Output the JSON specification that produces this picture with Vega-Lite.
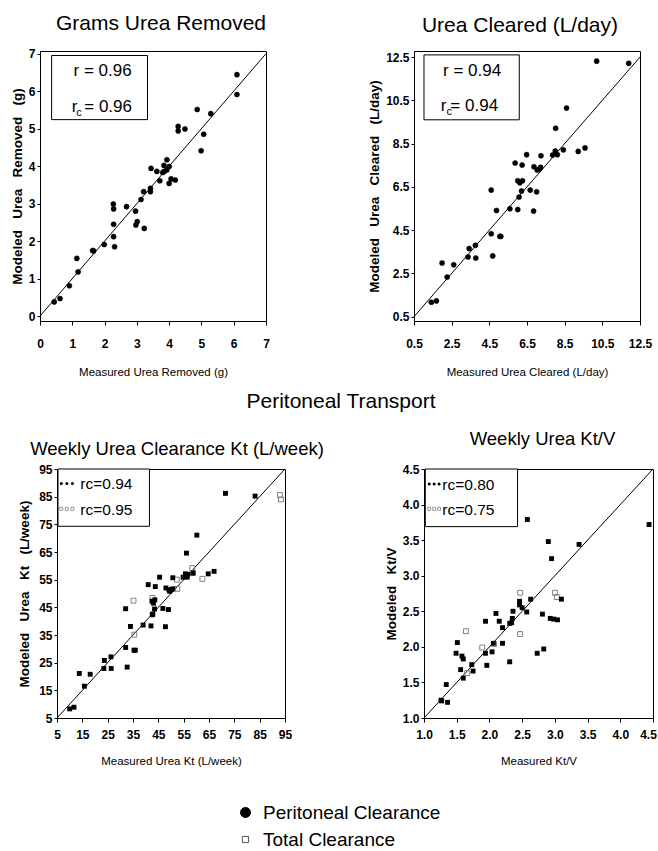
{
  "$schema": "https://vega.github.io/schema/vega-lite/v6.json",
  "background": "white",
  "padding": {"left": 9, "top": 12, "right": 0, "bottom": 0},
  "config": {
    "view": {"stroke": "black", "strokeWidth": 1},
    "axis": {"grid": false, "domainColor": "black", "tickColor": "black", "labelColor": "black", "titleColor": "black", "tickSize": 4, "labelFont": "Liberation Sans", "labelFontSize": 12, "labelFontWeight": "bold", "titleFont": "Liberation Sans", "titleFontWeight": "normal", "titleFontSize": 11.5, "labelFlush": false, "labelOverlap": false},
    "axisY": {"titleFont": "Liberation Sans", "titleFontWeight": "bold", "titleFontSize": 13.5, "labelPadding": 2, "tickSize": 3},
    "axisX": {"labelPadding": 13, "titlePadding": 17},
    "title": {"font": "Liberation Sans", "fontWeight": "normal", "color": "black"}
  },
  "datasets": {
    "grams": [
      {"x":0.44,"y":0.38,"s":"Peritoneal Clearance"},{"x":0.62,"y":0.47,"s":"Peritoneal Clearance"},{"x":0.91,"y":0.81,"s":"Peritoneal Clearance"},{"x":1.14,"y":1.54,"s":"Peritoneal Clearance"},{"x":1.18,"y":1.18,"s":"Peritoneal Clearance"},{"x":1.63,"y":1.75,"s":"Peritoneal Clearance"},{"x":1.66,"y":1.74,"s":"Peritoneal Clearance"},{"x":1.99,"y":1.91,"s":"Peritoneal Clearance"},{"x":2.27,"y":2.99,"s":"Peritoneal Clearance"},{"x":2.28,"y":2.86,"s":"Peritoneal Clearance"},{"x":2.28,"y":2.45,"s":"Peritoneal Clearance"},{"x":2.28,"y":2.12,"s":"Peritoneal Clearance"},{"x":2.31,"y":1.85,"s":"Peritoneal Clearance"},{"x":2.68,"y":2.92,"s":"Peritoneal Clearance"},{"x":2.96,"y":2.80,"s":"Peritoneal Clearance"},{"x":2.97,"y":2.43,"s":"Peritoneal Clearance"},{"x":3.01,"y":2.52,"s":"Peritoneal Clearance"},{"x":3.23,"y":2.34,"s":"Peritoneal Clearance"},{"x":3.13,"y":3.11,"s":"Peritoneal Clearance"},{"x":3.21,"y":3.32,"s":"Peritoneal Clearance"},{"x":3.42,"y":3.41,"s":"Peritoneal Clearance"},{"x":3.42,"y":3.32,"s":"Peritoneal Clearance"},{"x":3.44,"y":3.94,"s":"Peritoneal Clearance"},{"x":3.62,"y":3.86,"s":"Peritoneal Clearance"},{"x":3.71,"y":3.61,"s":"Peritoneal Clearance"},{"x":3.80,"y":3.83,"s":"Peritoneal Clearance"},{"x":3.84,"y":4.02,"s":"Peritoneal Clearance"},{"x":3.85,"y":3.86,"s":"Peritoneal Clearance"},{"x":3.93,"y":4.17,"s":"Peritoneal Clearance"},{"x":3.93,"y":3.90,"s":"Peritoneal Clearance"},{"x":4.00,"y":3.54,"s":"Peritoneal Clearance"},{"x":4.00,"y":3.99,"s":"Peritoneal Clearance"},{"x":4.06,"y":3.66,"s":"Peritoneal Clearance"},{"x":4.19,"y":3.63,"s":"Peritoneal Clearance"},{"x":4.28,"y":5.06,"s":"Peritoneal Clearance"},{"x":4.28,"y":4.94,"s":"Peritoneal Clearance"},{"x":4.49,"y":4.99,"s":"Peritoneal Clearance"},{"x":4.87,"y":5.51,"s":"Peritoneal Clearance"},{"x":4.99,"y":4.41,"s":"Peritoneal Clearance"},{"x":5.07,"y":4.85,"s":"Peritoneal Clearance"},{"x":5.29,"y":5.40,"s":"Peritoneal Clearance"},{"x":6.10,"y":6.44,"s":"Peritoneal Clearance"},{"x":6.10,"y":5.91,"s":"Peritoneal Clearance"}
    ],
    "cleared": [
      {"x":1.42,"y":1.17,"s":"Peritoneal Clearance"},{"x":1.69,"y":1.23,"s":"Peritoneal Clearance"},{"x":1.99,"y":2.98,"s":"Peritoneal Clearance"},{"x":2.26,"y":2.33,"s":"Peritoneal Clearance"},{"x":2.61,"y":2.90,"s":"Peritoneal Clearance"},{"x":3.37,"y":3.26,"s":"Peritoneal Clearance"},{"x":3.43,"y":3.65,"s":"Peritoneal Clearance"},{"x":3.76,"y":3.80,"s":"Peritoneal Clearance"},{"x":3.78,"y":3.21,"s":"Peritoneal Clearance"},{"x":4.60,"y":6.35,"s":"Peritoneal Clearance"},{"x":4.60,"y":4.33,"s":"Peritoneal Clearance"},{"x":4.68,"y":3.31,"s":"Peritoneal Clearance"},{"x":4.88,"y":5.41,"s":"Peritoneal Clearance"},{"x":5.06,"y":4.21,"s":"Peritoneal Clearance"},{"x":5.11,"y":4.21,"s":"Peritoneal Clearance"},{"x":5.59,"y":5.49,"s":"Peritoneal Clearance"},{"x":5.87,"y":7.60,"s":"Peritoneal Clearance"},{"x":6.01,"y":5.45,"s":"Peritoneal Clearance"},{"x":6.01,"y":6.78,"s":"Peritoneal Clearance"},{"x":6.08,"y":6.03,"s":"Peritoneal Clearance"},{"x":6.12,"y":6.69,"s":"Peritoneal Clearance"},{"x":6.21,"y":6.31,"s":"Peritoneal Clearance"},{"x":6.26,"y":6.78,"s":"Peritoneal Clearance"},{"x":6.24,"y":7.51,"s":"Peritoneal Clearance"},{"x":6.48,"y":7.99,"s":"Peritoneal Clearance"},{"x":6.67,"y":6.35,"s":"Peritoneal Clearance"},{"x":6.85,"y":5.38,"s":"Peritoneal Clearance"},{"x":6.87,"y":7.43,"s":"Peritoneal Clearance"},{"x":7.01,"y":6.27,"s":"Peritoneal Clearance"},{"x":7.04,"y":7.28,"s":"Peritoneal Clearance"},{"x":7.15,"y":7.32,"s":"Peritoneal Clearance"},{"x":7.22,"y":7.40,"s":"Peritoneal Clearance"},{"x":7.24,"y":7.94,"s":"Peritoneal Clearance"},{"x":7.86,"y":7.97,"s":"Peritoneal Clearance"},{"x":8.00,"y":8.16,"s":"Peritoneal Clearance"},{"x":8.02,"y":9.21,"s":"Peritoneal Clearance"},{"x":8.11,"y":7.99,"s":"Peritoneal Clearance"},{"x":8.43,"y":8.21,"s":"Peritoneal Clearance"},{"x":8.60,"y":10.14,"s":"Peritoneal Clearance"},{"x":9.22,"y":8.14,"s":"Peritoneal Clearance"},{"x":9.58,"y":8.30,"s":"Peritoneal Clearance"},{"x":10.20,"y":12.31,"s":"Peritoneal Clearance"},{"x":11.90,"y":12.21,"s":"Peritoneal Clearance"}
    ],
    "kt_p": [
      {"x":10.0,"y":8.3},{"x":11.7,"y":8.9},{"x":13.8,"y":21.1},{"x":15.8,"y":16.5},{"x":18.1,"y":20.8},{"x":23.5,"y":22.9},{"x":23.7,"y":25.8},{"x":26.3,"y":27.1},{"x":26.4,"y":22.9},{"x":32.1,"y":30.5},{"x":32.1,"y":44.5},{"x":32.7,"y":23.4},{"x":34.0,"y":38.1},{"x":35.4,"y":29.5},{"x":35.9,"y":29.5},{"x":39.0,"y":38.6},{"x":41.0,"y":53.2},{"x":42.1,"y":38.3},{"x":42.5,"y":47.2},{"x":42.6,"y":42.3},{"x":42.8,"y":42.6},{"x":43.1,"y":46.5},{"x":43.5,"y":44.4},{"x":43.6,"y":47.7},{"x":43.8,"y":52.5},{"x":45.5,"y":55.9},{"x":46.8,"y":44.6},{"x":47.8,"y":38.0},{"x":48.0,"y":52.0},{"x":49.0,"y":44.2},{"x":49.2,"y":51.3},{"x":49.5,"y":50.8},{"x":50.2,"y":51.4},{"x":50.7,"y":55.7},{"x":50.7,"y":51.7},{"x":54.8,"y":55.9},{"x":55.7,"y":57.1},{"x":56.1,"y":64.6},{"x":56.4,"y":55.9},{"x":56.6,"y":56.9},{"x":58.7,"y":57.4},{"x":60.2,"y":71.1},{"x":64.7,"y":57.1},{"x":67.0,"y":58.0},{"x":71.5,"y":86.2},{"x":83.2,"y":85.2}
    ],
    "kt_t": [
      {"x":35.2,"y":47.4},{"x":35.5,"y":35.1},{"x":42.7,"y":48.4},{"x":52.3,"y":55.0},{"x":52.5,"y":51.7},{"x":58.4,"y":59.2},{"x":58.6,"y":57.4},{"x":62.4,"y":55.3},{"x":93.0,"y":85.6},{"x":93.4,"y":84.0}
    ],
    "ktv_p": [
      {"x":1.26,"y":1.25},{"x":1.27,"y":1.24},{"x":1.36,"y":1.22},{"x":1.34,"y":1.47},{"x":1.49,"y":1.91},{"x":1.51,"y":2.06},{"x":1.56,"y":1.68},{"x":1.58,"y":1.87},{"x":1.60,"y":1.83},{"x":1.60,"y":1.56},{"x":1.73,"y":1.75},{"x":1.75,"y":1.66},{"x":1.94,"y":2.36},{"x":1.94,"y":1.91},{"x":1.96,"y":1.74},{"x":2.04,"y":1.93},{"x":2.06,"y":2.05},{"x":2.10,"y":2.47},{"x":2.15,"y":2.36},{"x":2.20,"y":2.27},{"x":2.20,"y":2.05},{"x":2.31,"y":2.33},{"x":2.31,"y":1.79},{"x":2.34,"y":2.34},{"x":2.35,"y":2.40},{"x":2.36,"y":2.50},{"x":2.46,"y":2.64},{"x":2.46,"y":2.59},{"x":2.50,"y":2.55},{"x":2.58,"y":3.79},{"x":2.57,"y":2.49},{"x":2.63,"y":2.67},{"x":2.73,"y":1.91},{"x":2.81,"y":2.46},{"x":2.83,"y":1.97},{"x":2.90,"y":3.48},{"x":2.93,"y":2.40},{"x":2.95,"y":3.24},{"x":2.98,"y":2.39},{"x":3.04,"y":2.38},{"x":3.10,"y":2.67},{"x":3.37,"y":3.44},{"x":4.44,"y":3.72}
    ],
    "ktv_t": [
      {"x":1.64,"y":2.22},{"x":1.66,"y":1.63},{"x":1.89,"y":1.99},{"x":2.07,"y":2.04},{"x":2.47,"y":2.76},{"x":2.47,"y":2.18},{"x":3.00,"y":2.76},{"x":3.03,"y":2.70}
    ],
    "diag1": [{"x":0,"y":0},{"x":7,"y":7}],
    "diag2": [{"x":0.5,"y":0.5},{"x":12.5,"y":12.5}],
    "diag3": [{"x":5,"y":5},{"x":95,"y":95}],
    "diag4": [{"x":1,"y":1},{"x":4.5,"y":4.5}],
    "box1": [{"x":0.36,"y":6.95,"x2":3.33,"y2":5.24}],
    "box2": [{"x":1.03,"y":12.6,"x2":6.09,"y2":9.6}],
    "box3": [{"x":5.4,"y":95,"x2":41.5,"y2":74.3}],
    "box4": [{"x":1.02,"y":4.5,"x2":2.43,"y2":3.69}],
    "t1a": [{"x":1.04,"y":6.53,"t":"r = 0.96"},{"x":0.98,"y":5.59,"t":"r"},{"x":1.37,"y":5.59,"t":"= 0.96"}],
    "t1b": [{"x":1.12,"y":5.43,"t":"c"}],
    "t2a": [{"x":2.04,"y":11.86,"t":"r = 0.94"},{"x":1.92,"y":10.22,"t":"r"},{"x":2.43,"y":10.22,"t":"= 0.94"}],
    "t2b": [{"x":2.22,"y":9.96,"t":"c"}],
    "t3": [{"x":14.2,"y":89.4,"t":"rc=0.94"},{"x":14.2,"y":80.1,"t":"rc=0.95"}],
    "t4": [{"x":1.28,"y":4.28,"t":"rc=0.80"},{"x":1.28,"y":3.92,"t":"rc=0.75"}],
    "dots3": [{"x":6.7,"y":89.8},{"x":8.9,"y":89.8},{"x":11.1,"y":89.8}],
    "sq3": [{"x":6.7,"y":80.6},{"x":8.9,"y":80.6},{"x":11.1,"y":80.6}],
    "dots4": [{"x":1.08,"y":4.29},{"x":1.155,"y":4.29},{"x":1.23,"y":4.29}],
    "sq4": [{"x":1.08,"y":3.94},{"x":1.155,"y":3.94},{"x":1.23,"y":3.94}]
  },
  "columns": 1,
  "align": "none",
  "spacing": 13,
  "concat": [
    {
      "bounds": "flush",
      "spacing": 148,
      "hconcat": [
        {
          "width": 226, "height": 270,
          "title": {"text": "Grams Urea Removed", "fontSize": 21, "dx": 8, "offset": 14},
          "encoding": {
            "x": {"field": "x", "type": "quantitative", "scale": {"domain": [0, 7], "nice": false, "zero": false}, "axis": {"values": [0,1,2,3,4,5,6,7], "title": "Measured Urea Removed (g)"}},
            "y": {"field": "y", "type": "quantitative", "scale": {"domain": [-0.13, 7.07], "nice": false, "zero": false}, "axis": {"values": [0,1,2,3,4,5,6,7], "title": "Modeled \u00a0\u00a0Urea \u00a0\u00a0Removed \u00a0\u00a0(g)", "titlePadding": 4}}
          },
          "layer": [
            {"data": {"name": "box1"}, "mark": {"type": "rect", "fill": "white", "stroke": "black", "strokeWidth": 1}, "encoding": {"x2": {"field": "x2"}, "y2": {"field": "y2"}}},
            {"data": {"name": "diag1"}, "mark": {"type": "line", "color": "black", "strokeWidth": 1}, "encoding": {}},
            {"data": {"name": "grams"}, "mark": {"type": "point", "filled": true, "size": 26, "opacity": 1, "strokeWidth": 0.5},
             "encoding": {
               "shape": {"field": "s", "type": "nominal", "scale": {"domain": ["Peritoneal Clearance", "Total Clearance"], "range": ["circle", "M-0.62,-0.62H0.62V0.62H-0.62Z"]}, "legend": {"title": null, "orient": "none", "legendX": 196, "legendY": 752, "labelFont": "Liberation Sans", "labelFontSize": 19, "labelColor": "black", "labelOffset": 8, "labelLimit": 400, "rowPadding": 7, "symbolSize": 100, "symbolStrokeWidth": 1}},
               "fill": {"field": "s", "type": "nominal", "scale": {"domain": ["Peritoneal Clearance", "Total Clearance"], "range": ["black", "white"]}, "legend": {"title": null, "orient": "none", "legendX": 196, "legendY": 752, "labelFont": "Liberation Sans", "labelFontSize": 19, "labelColor": "black", "labelOffset": 8, "labelLimit": 400, "rowPadding": 7, "symbolSize": 100, "symbolStrokeWidth": 1}},
               "stroke": {"field": "s", "type": "nominal", "scale": {"domain": ["Peritoneal Clearance", "Total Clearance"], "range": ["black", "#555555"]}, "legend": {"title": null, "orient": "none", "legendX": 196, "legendY": 752, "labelFont": "Liberation Sans", "labelFontSize": 19, "labelColor": "black", "labelOffset": 8, "labelLimit": 400, "rowPadding": 7, "symbolSize": 100, "symbolStrokeWidth": 1}}
             }},
            {"data": {"name": "t1a"}, "mark": {"type": "text", "align": "left", "font": "Liberation Sans", "fontSize": 17, "color": "black"}, "encoding": {"text": {"field": "t"}}},
            {"data": {"name": "t1b"}, "mark": {"type": "text", "align": "left", "font": "Liberation Sans", "fontSize": 11, "color": "black"}, "encoding": {"text": {"field": "t"}}}
          ]
        },
        {
          "width": 226, "height": 270,
          "title": {"text": "Urea Cleared (L/day)", "fontSize": 21, "dx": -7, "offset": 15},
          "encoding": {
            "x": {"field": "x", "type": "quantitative", "scale": {"domain": [0.5, 12.5], "nice": false, "zero": false}, "axis": {"values": [0.5,2.5,4.5,6.5,8.5,10.5,12.5], "format": ".1f", "title": "Measured Urea Cleared (L/day)"}},
            "y": {"field": "y", "type": "quantitative", "scale": {"domain": [0.3, 12.78], "nice": false, "zero": false}, "axis": {"values": [0.5,2.5,4.5,6.5,8.5,10.5,12.5], "format": ".1f", "title": "Modeled \u00a0\u00a0Urea \u00a0\u00a0Cleared \u00a0\u00a0(L/day)", "titlePadding": 4}}
          },
          "layer": [
            {"data": {"name": "box2"}, "mark": {"type": "rect", "fill": "white", "stroke": "black", "strokeWidth": 1}, "encoding": {"x2": {"field": "x2"}, "y2": {"field": "y2"}}},
            {"data": {"name": "diag2"}, "mark": {"type": "line", "color": "black", "strokeWidth": 1}, "encoding": {}},
            {"data": {"name": "cleared"}, "mark": {"type": "point", "filled": true, "size": 26, "opacity": 1, "strokeWidth": 0.5},
             "encoding": {
               "shape": {"field": "s", "type": "nominal", "scale": {"domain": ["Peritoneal Clearance", "Total Clearance"], "range": ["circle", "M-0.62,-0.62H0.62V0.62H-0.62Z"]}, "legend": {"title": null, "orient": "none", "legendX": 196, "legendY": 752, "labelFont": "Liberation Sans", "labelFontSize": 19, "labelColor": "black", "labelOffset": 8, "labelLimit": 400, "rowPadding": 7, "symbolSize": 100, "symbolStrokeWidth": 1}},
               "fill": {"field": "s", "type": "nominal", "scale": {"domain": ["Peritoneal Clearance", "Total Clearance"], "range": ["black", "white"]}, "legend": {"title": null, "orient": "none", "legendX": 196, "legendY": 752, "labelFont": "Liberation Sans", "labelFontSize": 19, "labelColor": "black", "labelOffset": 8, "labelLimit": 400, "rowPadding": 7, "symbolSize": 100, "symbolStrokeWidth": 1}},
               "stroke": {"field": "s", "type": "nominal", "scale": {"domain": ["Peritoneal Clearance", "Total Clearance"], "range": ["black", "#555555"]}, "legend": {"title": null, "orient": "none", "legendX": 196, "legendY": 752, "labelFont": "Liberation Sans", "labelFontSize": 19, "labelColor": "black", "labelOffset": 8, "labelLimit": 400, "rowPadding": 7, "symbolSize": 100, "symbolStrokeWidth": 1}}
             }},
            {"data": {"name": "t2a"}, "mark": {"type": "text", "align": "left", "font": "Liberation Sans", "fontSize": 17, "color": "black"}, "encoding": {"text": {"field": "t"}}},
            {"data": {"name": "t2b"}, "mark": {"type": "text", "align": "left", "font": "Liberation Sans", "fontSize": 11, "color": "black"}, "encoding": {"text": {"field": "t"}}}
          ]
        }
      ]
    },
    {
      "bounds": "flush",
      "spacing": 0,
      "title": {"text": "Peritoneal Transport", "fontSize": 21, "anchor": "middle", "offset": 17, "dx": 4},
      "hconcat": [
        {"width": 17, "height": 10, "data": {"values": []}, "mark": {"type": "point"}, "view": {"stroke": null}},
        {
          "bounds": "flush",
          "spacing": 139,
          "hconcat": [
            {
              "width": 228, "height": 249,
              "title": {"text": "Weekly Urea Clearance Kt (L/week)", "fontSize": 18.5, "dx": 6, "offset": 5},
              "encoding": {
                "x": {"field": "x", "type": "quantitative", "scale": {"domain": [5, 95], "nice": false, "zero": false}, "axis": {"values": [5,15,25,35,45,55,65,75,85,95], "title": "Measured Urea Kt (L/week)", "labelPadding": 7, "titlePadding": 15}},
                "y": {"field": "y", "type": "quantitative", "scale": {"domain": [5, 95], "nice": false, "zero": false}, "axis": {"values": [5,15,25,35,45,55,65,75,85,95], "title": "Modeled \u00a0\u00a0Urea \u00a0\u00a0Kt \u00a0\u00a0(L/week)", "titlePadding": 7}}
              },
              "layer": [
                {"data": {"name": "box3"}, "mark": {"type": "rect", "fill": "white", "stroke": "black", "strokeWidth": 1}, "encoding": {"x2": {"field": "x2"}, "y2": {"field": "y2"}}},
                {"data": {"name": "diag3"}, "mark": {"type": "line", "color": "black", "strokeWidth": 1}, "encoding": {}},
                {"data": {"name": "kt_t"}, "mark": {"type": "square", "filled": false, "color": "#808080", "size": 24, "strokeWidth": 1, "opacity": 1}},
                {"data": {"name": "kt_p"}, "mark": {"type": "square", "filled": true, "color": "black", "size": 24, "opacity": 1}},
                {"data": {"name": "dots3"}, "mark": {"type": "circle", "color": "black", "size": 9, "opacity": 1}},
                {"data": {"name": "sq3"}, "mark": {"type": "square", "filled": false, "color": "#808080", "size": 9, "strokeWidth": 0.8, "opacity": 1}},
                {"data": {"name": "t3"}, "mark": {"type": "text", "align": "left", "font": "Liberation Sans", "fontSize": 15.5, "color": "black"}, "encoding": {"text": {"field": "t"}}}
              ]
            },
            {
              "width": 229, "height": 249,
              "title": {"text": "Weekly Urea Kt/V", "fontSize": 18.5, "dx": 4, "offset": 15},
              "encoding": {
                "x": {"field": "x", "type": "quantitative", "scale": {"domain": [1, 4.5], "nice": false, "zero": false}, "axis": {"values": [1,1.5,2,2.5,3,3.5,4,4.5], "format": ".1f", "title": "Measured Kt/V", "labelPadding": 7, "titlePadding": 15, "labelOffset": {"condition": {"test": "datum.value === 4.5", "value": -5}, "value": 0}}},
                "y": {"field": "y", "type": "quantitative", "scale": {"domain": [1, 4.5], "nice": false, "zero": false}, "axis": {"values": [1,1.5,2,2.5,3,3.5,4,4.5], "format": ".1f", "title": "Modeled \u00a0\u00a0Kt/V", "titlePadding": 4}}
              },
              "layer": [
                {"data": {"name": "box4"}, "mark": {"type": "rect", "fill": "white", "stroke": "black", "strokeWidth": 1}, "encoding": {"x2": {"field": "x2"}, "y2": {"field": "y2"}}},
                {"data": {"name": "diag4"}, "mark": {"type": "line", "color": "black", "strokeWidth": 1}, "encoding": {}},
                {"data": {"name": "ktv_t"}, "mark": {"type": "square", "filled": false, "color": "#808080", "size": 24, "strokeWidth": 1, "opacity": 1}},
                {"data": {"name": "ktv_p"}, "mark": {"type": "square", "filled": true, "color": "black", "size": 24, "opacity": 1}},
                {"data": {"name": "dots4"}, "mark": {"type": "circle", "color": "black", "size": 9, "opacity": 1}},
                {"data": {"name": "sq4"}, "mark": {"type": "square", "filled": false, "color": "#808080", "size": 9, "strokeWidth": 0.8, "opacity": 1}},
                {"data": {"name": "t4"}, "mark": {"type": "text", "align": "left", "font": "Liberation Sans", "fontSize": 15.5, "color": "black"}, "encoding": {"text": {"field": "t"}}}
              ]
            }
          ]
        }
      ]
    }
  ]
}
